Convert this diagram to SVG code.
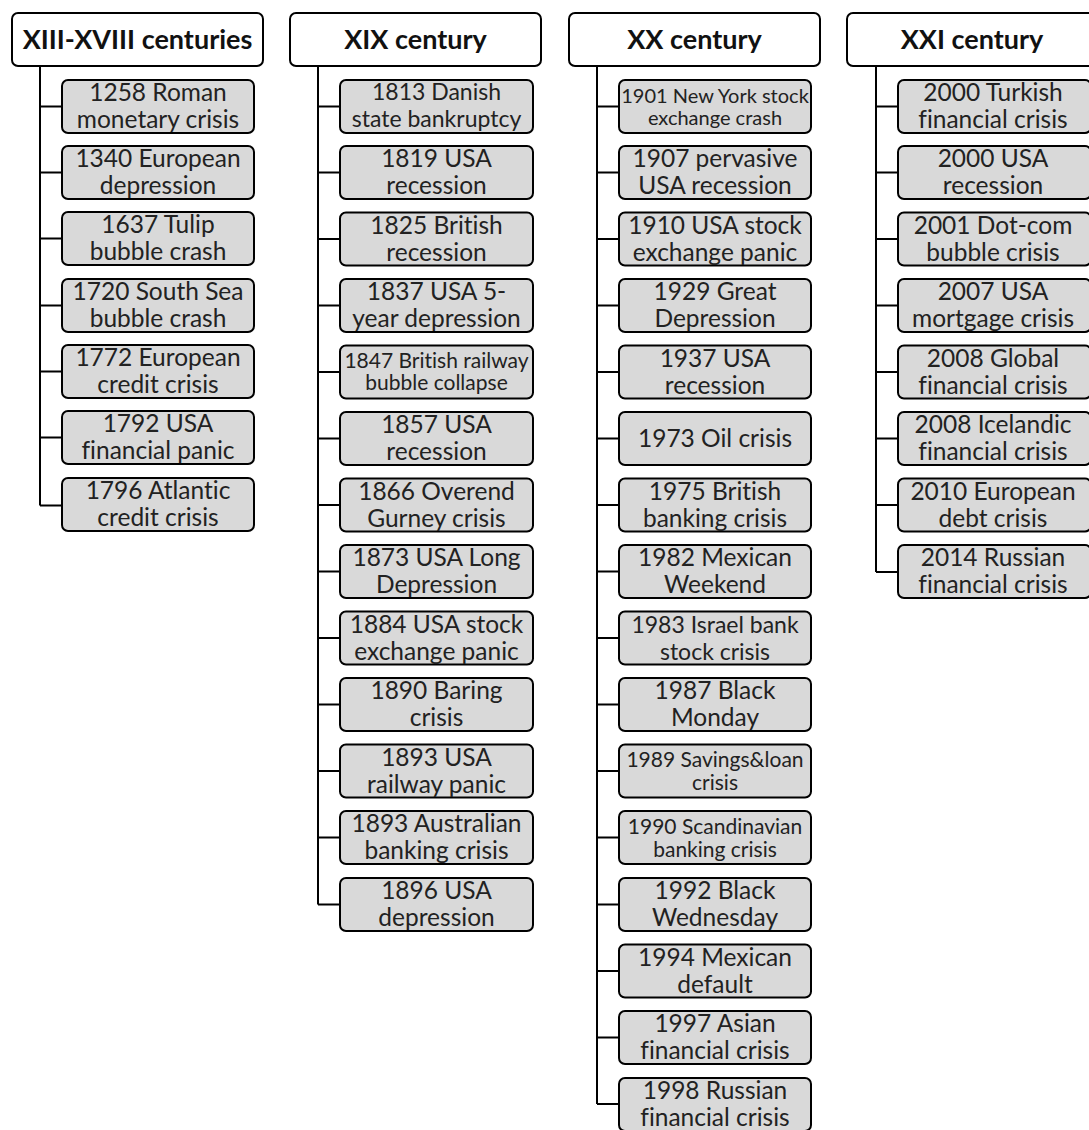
<svg xmlns="http://www.w3.org/2000/svg" width="1089" height="1130" viewBox="0 0 1089 1130">
<style>
text{font-family:Lato,"Liberation Sans",sans-serif;fill:#222;text-anchor:middle;font-variant-ligatures:none}
.hdr{fill:#fff;stroke:#000;stroke-width:2}
.box{fill:#d9d9d9;stroke:#000;stroke-width:2}
.ht{font-weight:bold;font-size:27px;fill:#111}
.t{font-size:24.5px}
.s{font-size:20px}
.s2{font-size:21px}
.m{font-size:23px}
.c{fill:none;stroke:#000;stroke-width:2}
</style>
<rect width="1089" height="1130" fill="#fff"/>
<g id="connectors">
<path class="c" d="M40 66V505.5M40 106.5H62M40 172.5H62M40 238.5H62M40 305.5H62M40 371.5H62M40 437.5H62M40 505.5H62"/>
<path class="c" d="M318 66V904.5M318 106.5H340M318 172.5H340M318 239H340M318 305.5H340M318 372H340M318 438.5H340M318 505H340M318 571.5H340M318 638H340M318 704.5H340M318 771H340M318 837.5H340M318 904.5H340"/>
<path class="c" d="M597 66V1104M597 106.5H619M597 172.5H619M597 239H619M597 305.5H619M597 372H619M597 438.5H619M597 505H619M597 571.5H619M597 638H619M597 704.5H619M597 771H619M597 837.5H619M597 904.5H619M597 971H619M597 1037.5H619M597 1104H619"/>
<path class="c" d="M876 66V572M876 106.5H898M876 172.5H898M876 239H898M876 305.5H898M876 372H898M876 438.5H898M876 505H898M876 572H898"/>
</g>
<g id="h1"><rect class="hdr" x="12" y="13" width="251" height="53" rx="6"/><text class="ht" x="137.5" y="49">XIII-XVIII centuries</text></g>
<g id="h2"><rect class="hdr" x="290" y="13" width="251" height="53" rx="6"/><text class="ht" x="415.5" y="49">XIX century</text></g>
<g id="h3"><rect class="hdr" x="569" y="13" width="251" height="53" rx="6"/><text class="ht" x="694.5" y="49">XX century</text></g>
<g id="h4"><rect class="hdr" x="847" y="13" width="251" height="53" rx="6"/><text class="ht" x="972" y="49">XXI century</text></g>

<g id="n1258"><rect class="box" x="62" y="80" width="192" height="53" rx="6"/><text class="t" x="158"><tspan x="158" y="101">1258 Roman</tspan><tspan x="158" y="128">monetary crisis</tspan></text></g>
<g id="n1340"><rect class="box" x="62" y="146" width="192" height="53" rx="6"/><text class="t" x="158"><tspan x="158" y="167">1340 European</tspan><tspan x="158" y="194">depression</tspan></text></g>
<g id="n1637"><rect class="box" x="62" y="212" width="192" height="53" rx="6"/><text class="t" x="158"><tspan x="158" y="233">1637 Tulip</tspan><tspan x="158" y="260">bubble crash</tspan></text></g>
<g id="n1720"><rect class="box" x="62" y="279" width="192" height="53" rx="6"/><text class="t" x="158"><tspan x="158" y="300">1720 South Sea</tspan><tspan x="158" y="327">bubble crash</tspan></text></g>
<g id="n1772"><rect class="box" x="62" y="345" width="192" height="53" rx="6"/><text class="t" x="158"><tspan x="158" y="366">1772 European</tspan><tspan x="158" y="393">credit crisis</tspan></text></g>
<g id="n1792"><rect class="box" x="62" y="411" width="192" height="53" rx="6"/><text class="t" x="158"><tspan x="158" y="432">1792 USA</tspan><tspan x="158" y="459">financial panic</tspan></text></g>
<g id="n1796"><rect class="box" x="62" y="478" width="192" height="53" rx="6"/><text class="t" x="158"><tspan x="158" y="499">1796 Atlantic</tspan><tspan x="158" y="526">credit crisis</tspan></text></g>

<g id="n1813"><rect class="box" x="340" y="80" width="193" height="53" rx="6"/><text class="m" x="436.5"><tspan x="436.5" y="100">1813 Danish</tspan><tspan x="436.5" y="127">state bankruptcy</tspan></text></g>
<g id="n1819"><rect class="box" x="340" y="146" width="193" height="53" rx="6"/><text class="t" x="436.5"><tspan x="436.5" y="167">1819 USA</tspan><tspan x="436.5" y="194">recession</tspan></text></g>
<g id="n1825"><rect class="box" x="340" y="212.5" width="193" height="53" rx="6"/><text class="t" x="436.5"><tspan x="436.5" y="233.5">1825 British</tspan><tspan x="436.5" y="260.5">recession</tspan></text></g>
<g id="n1837"><rect class="box" x="340" y="279" width="193" height="53" rx="6"/><text class="t" x="436.5"><tspan x="436.5" y="300">1837 USA 5-</tspan><tspan x="436.5" y="327">year depression</tspan></text></g>
<g id="n1847"><rect class="box" x="340" y="345.5" width="193" height="53" rx="6"/><text class="s2" x="436.5"><tspan x="436.5" y="367.5">1847 British railway</tspan><tspan x="436.5" y="390">bubble collapse</tspan></text></g>
<g id="n1857"><rect class="box" x="340" y="412" width="193" height="53" rx="6"/><text class="t" x="436.5"><tspan x="436.5" y="433">1857 USA</tspan><tspan x="436.5" y="460">recession</tspan></text></g>
<g id="n1866"><rect class="box" x="340" y="478.5" width="193" height="53" rx="6"/><text class="t" x="436.5"><tspan x="436.5" y="499.5">1866 Overend</tspan><tspan x="436.5" y="526.5">Gurney crisis</tspan></text></g>
<g id="n1873"><rect class="box" x="340" y="545" width="193" height="53" rx="6"/><text class="t" x="436.5"><tspan x="436.5" y="566">1873 USA Long</tspan><tspan x="436.5" y="593">Depression</tspan></text></g>
<g id="n1884"><rect class="box" x="340" y="611.5" width="193" height="53" rx="6"/><text class="t" x="436.5"><tspan x="436.5" y="632.5">1884 USA stock</tspan><tspan x="436.5" y="659.5">exchange panic</tspan></text></g>
<g id="n1890"><rect class="box" x="340" y="678" width="193" height="53" rx="6"/><text class="t" x="436.5"><tspan x="436.5" y="699">1890 Baring</tspan><tspan x="436.5" y="726">crisis</tspan></text></g>
<g id="n1893a"><rect class="box" x="340" y="744.5" width="193" height="53" rx="6"/><text class="t" x="436.5"><tspan x="436.5" y="765.5">1893 USA</tspan><tspan x="436.5" y="792.5">railway panic</tspan></text></g>
<g id="n1893b"><rect class="box" x="340" y="811" width="193" height="53" rx="6"/><text class="t" x="436.5"><tspan x="436.5" y="832">1893 Australian</tspan><tspan x="436.5" y="859">banking crisis</tspan></text></g>
<g id="n1896"><rect class="box" x="340" y="878" width="193" height="53" rx="6"/><text class="t" x="436.5"><tspan x="436.5" y="899">1896 USA</tspan><tspan x="436.5" y="926">depression</tspan></text></g>

<g id="n1901"><rect class="box" x="619" y="80" width="192" height="53" rx="6"/><text class="s" x="715"><tspan x="715" y="102.5">1901 New York stock</tspan><tspan x="715" y="124.5">exchange crash</tspan></text></g>
<g id="n1907"><rect class="box" x="619" y="146" width="192" height="53" rx="6"/><text class="t" x="715"><tspan x="715" y="167">1907 pervasive</tspan><tspan x="715" y="194">USA recession</tspan></text></g>
<g id="n1910"><rect class="box" x="619" y="212.5" width="192" height="53" rx="6"/><text class="t" x="715"><tspan x="715" y="233.5">1910 USA stock</tspan><tspan x="715" y="260.5">exchange panic</tspan></text></g>
<g id="n1929"><rect class="box" x="619" y="279" width="192" height="53" rx="6"/><text class="t" x="715"><tspan x="715" y="300">1929 Great</tspan><tspan x="715" y="327">Depression</tspan></text></g>
<g id="n1937"><rect class="box" x="619" y="345.5" width="192" height="53" rx="6"/><text class="t" x="715"><tspan x="715" y="366.5">1937 USA</tspan><tspan x="715" y="393.5">recession</tspan></text></g>
<g id="n1973"><rect class="box" x="619" y="412" width="192" height="53" rx="6"/><text class="t" x="715" y="446.5">1973 Oil crisis</text></g>
<g id="n1975"><rect class="box" x="619" y="478.5" width="192" height="53" rx="6"/><text class="t" x="715"><tspan x="715" y="499.5">1975 British</tspan><tspan x="715" y="526.5">banking crisis</tspan></text></g>
<g id="n1982"><rect class="box" x="619" y="545" width="192" height="53" rx="6"/><text class="t" x="715"><tspan x="715" y="566">1982 Mexican</tspan><tspan x="715" y="593">Weekend</tspan></text></g>
<g id="n1983"><rect class="box" x="619" y="611.5" width="192" height="53" rx="6"/><text class="m" x="715"><tspan x="715" y="633">1983 Israel bank</tspan><tspan x="715" y="659.5">stock crisis</tspan></text></g>
<g id="n1987"><rect class="box" x="619" y="678" width="192" height="53" rx="6"/><text class="t" x="715"><tspan x="715" y="699">1987 Black</tspan><tspan x="715" y="726">Monday</tspan></text></g>
<g id="n1989"><rect class="box" x="619" y="744.5" width="192" height="53" rx="6"/><text class="s2" x="715"><tspan x="715" y="767">1989 Savings&amp;loan</tspan><tspan x="715" y="790">crisis</tspan></text></g>
<g id="n1990"><rect class="box" x="619" y="811" width="192" height="53" rx="6"/><text class="s2" x="715"><tspan x="715" y="833.5">1990 Scandinavian</tspan><tspan x="715" y="857">banking crisis</tspan></text></g>
<g id="n1992"><rect class="box" x="619" y="878" width="192" height="53" rx="6"/><text class="t" x="715"><tspan x="715" y="899">1992 Black</tspan><tspan x="715" y="926">Wednesday</tspan></text></g>
<g id="n1994"><rect class="box" x="619" y="944.5" width="192" height="53" rx="6"/><text class="t" x="715"><tspan x="715" y="965.5">1994 Mexican</tspan><tspan x="715" y="992.5">default</tspan></text></g>
<g id="n1997"><rect class="box" x="619" y="1011" width="192" height="53" rx="6"/><text class="t" x="715"><tspan x="715" y="1032">1997 Asian</tspan><tspan x="715" y="1059">financial crisis</tspan></text></g>
<g id="n1998"><rect class="box" x="619" y="1078" width="192" height="53" rx="6"/><text class="t" x="715"><tspan x="715" y="1099">1998 Russian</tspan><tspan x="715" y="1126">financial crisis</tspan></text></g>

<g id="n2000a"><rect class="box" x="898" y="80" width="193" height="53" rx="6"/><text class="t" x="993"><tspan x="993" y="101">2000 Turkish</tspan><tspan x="993" y="128">financial crisis</tspan></text></g>
<g id="n2000b"><rect class="box" x="898" y="146" width="193" height="53" rx="6"/><text class="t" x="993"><tspan x="993" y="167">2000 USA</tspan><tspan x="993" y="194">recession</tspan></text></g>
<g id="n2001"><rect class="box" x="898" y="212.5" width="193" height="53" rx="6"/><text class="t" x="993"><tspan x="993" y="233.5">2001 Dot-com</tspan><tspan x="993" y="260.5">bubble crisis</tspan></text></g>
<g id="n2007"><rect class="box" x="898" y="279" width="193" height="53" rx="6"/><text class="t" x="993"><tspan x="993" y="300">2007 USA</tspan><tspan x="993" y="327">mortgage crisis</tspan></text></g>
<g id="n2008a"><rect class="box" x="898" y="345.5" width="193" height="53" rx="6"/><text class="t" x="993"><tspan x="993" y="366.5">2008 Global</tspan><tspan x="993" y="393.5">financial crisis</tspan></text></g>
<g id="n2008b"><rect class="box" x="898" y="412" width="193" height="53" rx="6"/><text class="t" x="993"><tspan x="993" y="433">2008 Icelandic</tspan><tspan x="993" y="460">financial crisis</tspan></text></g>
<g id="n2010"><rect class="box" x="898" y="478.5" width="193" height="53" rx="6"/><text class="t" x="993"><tspan x="993" y="499.5">2010 European</tspan><tspan x="993" y="526.5">debt crisis</tspan></text></g>
<g id="n2014"><rect class="box" x="898" y="545" width="193" height="53" rx="6"/><text class="t" x="993"><tspan x="993" y="566">2014 Russian</tspan><tspan x="993" y="593">financial crisis</tspan></text></g>
</svg>
